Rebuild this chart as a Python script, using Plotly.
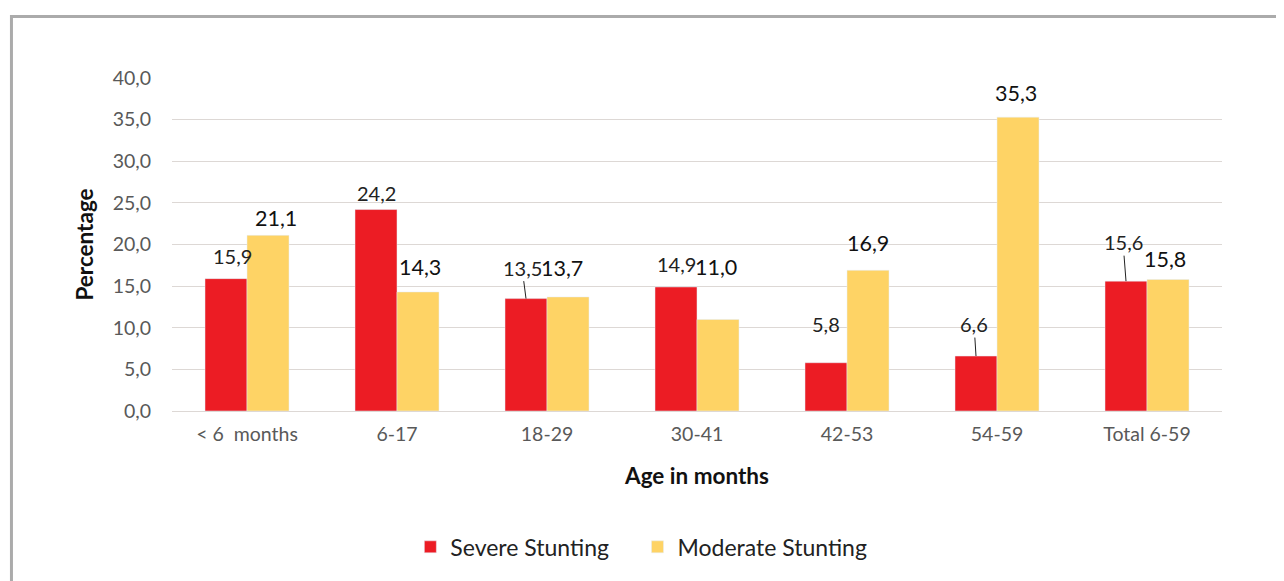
import plotly.graph_objects as go

categories = ["< 6\u00a0 months", "6-17", "18-29", "30-41", "42-53", "54-59", "Total 6-59"]
severe = [15.9, 24.2, 13.5, 14.9, 5.8, 6.6, 15.6]
moderate = [21.1, 14.3, 13.7, 11.0, 16.9, 35.3, 15.8]
y_ticks = [0, 5, 10, 15, 20, 25, 30, 35, 40]
series_names = ["Severe Stunting", "Moderate Stunting"]

RED = "#EC1C24"
YELLOW = "#FED365"
FONT = "Lato, 'Open Sans', sans-serif"

# label placement tweaks (pixels)
red_dy = [23, 17, 31, 23, 39, 32, 39]
red_dx = [6, 0, -4, 0, 0, -2, -3]
red_leader = [False, False, True, False, False, True, True]
yel_dy = [17, 25, 29, 52, 27, 24, 20]
yel_dx = [8, 2, -6, -2, 0, -2, -3]
LEGEND_PAD = "\u00a0" * 4

def fmt(v):
    return f"{v:.1f}".replace(".", ",")

fig = go.Figure()
fig.add_trace(go.Bar(x=categories, y=severe, name=series_names[0] + LEGEND_PAD, marker_color=RED))
fig.add_trace(go.Bar(x=categories, y=moderate, name=series_names[1], marker_color=YELLOW))

annotations = []
for i, c in enumerate(categories):
    if red_leader[i]:
        annotations.append(dict(x=c, y=severe[i], xref="x", yref="y", text=fmt(severe[i]),
                                showarrow=True, arrowhead=0, arrowwidth=1, arrowcolor="#222",
                                ax=red_dx[i], ay=-red_dy[i], xshift=-21, standoff=0,
                                font=dict(family=FONT, size=20, color="#222")))
    else:
        annotations.append(dict(x=c, y=severe[i], xref="x", yref="y", text=fmt(severe[i]),
                                showarrow=False, yanchor="middle", xshift=-21 + red_dx[i],
                                yshift=red_dy[i], font=dict(family=FONT, size=20, color="#222")))
    annotations.append(dict(x=c, y=moderate[i], xref="x", yref="y", text=fmt(moderate[i]),
                            showarrow=False, yanchor="middle", xshift=21 + yel_dx[i],
                            yshift=yel_dy[i], font=dict(family=FONT, size=21.5, color="#111")))

fig.update_layout(
    width=1276, height=573,
    margin=dict(l=164, r=62, t=70, b=170),
    paper_bgcolor="white", plot_bgcolor="white",
    separators=",.",
    barmode="group", bargap=0.44, bargroupgap=0,
    font=dict(family=FONT, color="#595959"),
    annotations=annotations,
    legend=dict(orientation="h", x=0.447, xanchor="center", y=-0.408, yanchor="middle",
                font=dict(family=FONT, size=23, color="#222"),
                traceorder="normal"),
    xaxis=dict(showgrid=False, showline=False, ticks="", tickfont=dict(size=19.5, color="#595959"),
               ticklabelstandoff=9,
               title=dict(text="<b>Age in months</b>", font=dict(size=22.5, color="#111"), standoff=24)),
    yaxis=dict(range=[0, 40], tickvals=y_ticks, tickformat=".1f", showgrid=True,
               gridcolor="#DDD8D5", gridwidth=1.3, zeroline=True, zerolinecolor="#DDD8D5",
               zerolinewidth=1.3, tickfont=dict(size=19.5, color="#595959"), ticklabelstandoff=20,
               title=dict(text="<b>Percentage</b>", font=dict(size=22.5, color="#111"), standoff=12)),
    shapes=[dict(type="rect", xref="paper", yref="paper",
                 x0=-0.1529, x1=1.5, y0=-1.0, y1=1.1847,
                 line=dict(color="#ABABAB", width=3), fillcolor="rgba(0,0,0,0)", layer="above")],
)

fig.write_html("out.html")
